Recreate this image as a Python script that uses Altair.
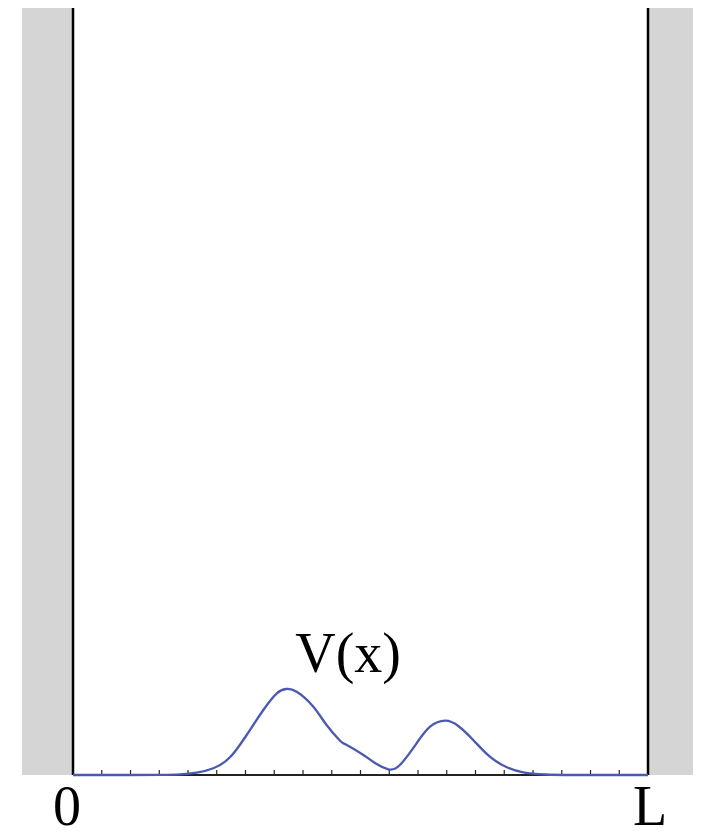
import altair as alt
import pandas as pd

# Potential V(x), x in units of L/20, V in arbitrary units
x_vals = [0, 1.98, 3.03, 3.72, 4.30, 4.88, 5.46, 6.04, 6.62, 7.09, 7.41, 7.78, 8.36, 8.82,
          9.29, 9.52, 10.10, 10.56, 10.97, 11.37, 11.95, 12.42, 12.94, 13.40, 13.92, 14.50,
          15.09, 15.66, 16.42, 17.46, 20]
v_vals = [0, 0, 0.2, 0.7, 2.3, 6.7, 17.7, 40, 65, 81.7, 86, 83.3, 68.3, 50,
          34.3, 30, 20, 11, 5.7, 10, 31.7, 48.3, 54.3, 49, 35, 18.3,
          7.7, 2.7, 0.5, 0, 0]

tick_pos = list(range(1, 20))
wall_start = [-1.774, 20]
wall_end = [0, 21.565]
labels = ["V(x)", "0", "L"]
label_x = [9.57, -0.21, 20.07]
label_y = [103, -50, -50]

XMIN, XMAX = -1.774, 21.565
YMAX = 767

xs = alt.Scale(domain=[XMIN, XMAX], nice=False, zero=False)
ys = alt.Scale(domain=[0, YMAX], nice=False, zero=False)

curve = pd.DataFrame({"x": x_vals, "v": v_vals})
walls = pd.DataFrame({"x1": wall_start, "x2": wall_end})
ticks = pd.DataFrame({"x": tick_pos})
lab = pd.DataFrame({"t": labels, "x": label_x, "y": label_y})

wall_layer = alt.Chart(walls).mark_rect(color="#d5d5d5").encode(
    x=alt.X("x1:Q", scale=xs, axis=None), x2="x2:Q",
    y=alt.value(0), y2=alt.value(YMAX))

edge_layer = alt.Chart(pd.DataFrame({"x": [0, 20]})).mark_rule(
    color="black", strokeWidth=2.5).encode(
    x=alt.X("x:Q", scale=xs, axis=None), y=alt.value(0), y2=alt.value(YMAX))

base_layer = alt.Chart(pd.DataFrame({"a": [0], "b": [20]})).mark_rule(
    color="#222222", strokeWidth=2).encode(
    x=alt.X("a:Q", scale=xs, axis=None), x2="b:Q", y=alt.value(YMAX))

tick_layer = alt.Chart(ticks).mark_rule(color="#222222", strokeWidth=1.2).encode(
    x=alt.X("x:Q", scale=xs, axis=None), y=alt.value(YMAX - 5), y2=alt.value(YMAX))

curve_layer = alt.Chart(curve).mark_line(
    color="#4B59B0", strokeWidth=2.3, interpolate="natural").encode(
    x=alt.X("x:Q", scale=xs, axis=None), y=alt.Y("v:Q", scale=ys, axis=None))

text_layer = alt.Chart(lab).mark_text(
    font="Liberation Serif", fontSize=56, color="black", baseline="alphabetic",
    align="center").encode(
    x=alt.X("x:Q", scale=xs, axis=None), y=alt.Y("y:Q", scale=ys, axis=None),
    text="t:N")

chart = alt.layer(wall_layer, edge_layer, base_layer, tick_layer, curve_layer, text_layer).properties(
    width=671, height=YMAX,
    autosize=alt.AutoSizeParams(type="none"),
    padding={"left": 14, "top": 0, "right": 0, "bottom": 53},
).configure_view(stroke=None)

chart.save("out.html", embed_options={"renderer": "svg", "actions": False})
